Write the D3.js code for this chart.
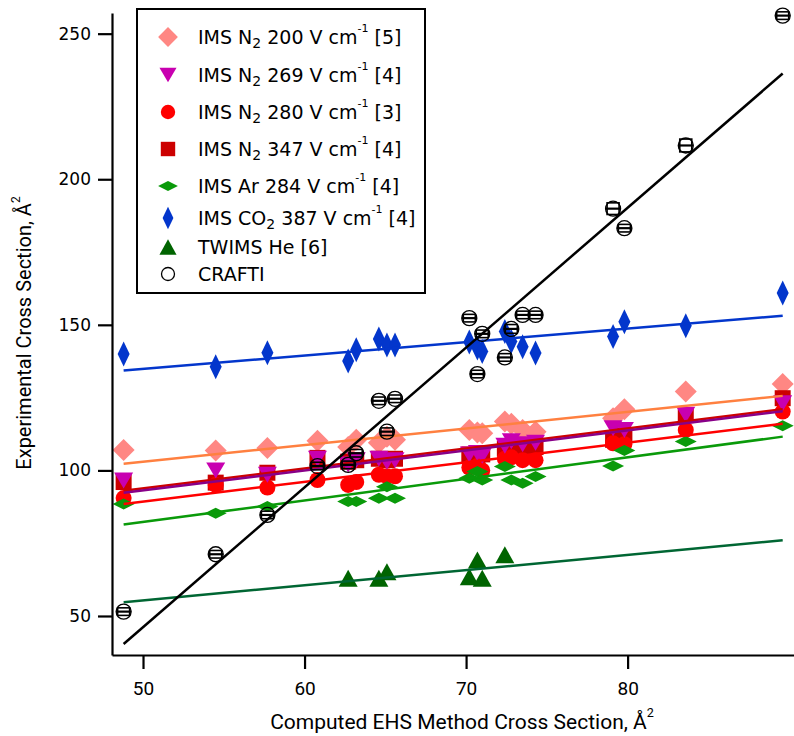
<!DOCTYPE html>
<html><head><meta charset="utf-8">
<script src="https://cdn.jsdelivr.net/npm/d3@7/dist/d3.min.js"></script>
<style>body{margin:0;background:#fff}</style>
</head><body>
<svg id="c" width="794" height="736"></svg>
<script>
// ---- data ----
const ehs      = [48.8, 54.5, 57.7, 60.8, 62.7, 63.2, 64.6, 65.1, 65.6, 70.2, 70.7, 71.0, 72.4, 72.8, 73.5, 74.3, 79.1, 79.8, 83.6, 89.6];
const n2_200   = [107, 106.8, 107.7, 110.2, 108, 110.5, 109.5, 111.6, 110.5, 113.9, 113, 112.8, 116.8, 116, 113.9, 113.3, 117.9, 121, 127.1, 129.7];
const n2_269   = [96.5, 100, 98.5, 104, 102, 103.5, 104, 103, 103.5, 105.5, 106, 105, 108.5, 110, 109, 109.5, 114.5, 113.9, 119.1, 123.1];
const n2_280   = [90.5, 95, 94.1, 96.7, 95, 96, 98.5, 98, 98, 101, 101.5, 100, 104, 104.5, 103.5, 103.5, 109.3, 109, 113.9, 120.2];
const n2_347   = [96, 95.8, 99.2, 104.3, 103, 103.5, 104, 103.5, 104, 105.5, 105, 105.5, 107.5, 108, 107, 108, 110.5, 112, 119, 124.8];
const ar_284   = [88.5, 85.3, 87.6, null, 89.3, 89.3, 90.4, 94.4, 90.4, 97.3, 99.6, 96.7, 101.3, 96.7, 95.6, 97.9, 101.5, 106.8, 109.9, 115.3];
const co2_387  = [140, 135.6, 140.4, null, 137.6, 141.4, 145.1, 143.1, 143.1, 144.1, 142, 140.8, 147.7, 144.3, 142.5, 140.3, 146, 151.1, 149.7, 160.9];
const twims_he = [null, null, null, null, 63.0, null, 63.0, 65.2, null, 63.5, 69.2, 63.0, 71.0, null, null, null, null, null, null, null];
const crafti   = [51.5, 71.2, 84.7, 101.5, 101.9, 105.9, 123.9, 113.3, 124.6, 152.3, 133.1, 146.9, 138.8, 148.6, 153.4, 153.4, 189.9, 183.2, 211.6, 256.2];
const craftiErr= [1.3, 1.3, 1.3, 1.3, 1.3, 1.3, 1.3, 1.3, 1.3, 1.3, 1.3, 1.3, 1.3, 1.5, 1.3, 1.3, 2.0, 1.3, 2.2, 1.3];

// linear fit lines: values at the first and last EHS value
const fitX        = [48.8, 89.6];
const fit_n2_200  = [102.3, 125.6];
const fit_n2_269  = [92.3, 120.3];
const fit_n2_280  = [88.5, 116.0];
const fit_n2_347  = [93.0, 121.0];
const fit_ar_284  = [81.4, 111.6];
const fit_co2_387 = [134.3, 153.1];
const fit_twims   = [54.7, 76.0];
const fit_crafti  = [40.4, 236.3];

const xTicks = [50, 60, 70, 80];
const yTicks = [50, 100, 150, 200, 250];
const xTitle = ["Computed EHS Method Cross Section, Å", "2"];
const yTitle = ["Experimental Cross Section, Å", "2"];
const legendLabels = [
  [["IMS N"], ["2","sub"], [" 200 V cm"], ["-1","sup"], [" [5]"]],
  [["IMS N"], ["2","sub"], [" 269 V cm"], ["-1","sup"], [" [4]"]],
  [["IMS N"], ["2","sub"], [" 280 V cm"], ["-1","sup"], [" [3]"]],
  [["IMS N"], ["2","sub"], [" 347 V cm"], ["-1","sup"], [" [4]"]],
  [["IMS Ar 284 V cm"], ["-1","sup"], [" [4]"]],
  [["IMS CO"], ["2","sub"], [" 387 V cm"], ["-1","sup"], [" [4]"]],
  [["TWIMS He [6]"]],
  [["CRAFTI"]]
];

// ---- styles ----
const series = [
  {vals:n2_200,  fit:fit_n2_200,  shape:"diamond", w:22, h:22, fill:"#ff8783", line:"#ff8040"},
  {vals:n2_347,  fit:fit_n2_347,  shape:"square",  w:16, h:16, fill:"#cc0000", line:"#cc0000"},
  {vals:n2_280,  fit:fit_n2_280,  shape:"circle",  w:16, h:16, fill:"#ff0000", line:"#ff0000"},
  {vals:n2_269,  fit:fit_n2_269,  shape:"triDown", w:19, h:16, fill:"#c800b0", line:"#880088"},
  {vals:ar_284,  fit:fit_ar_284,  shape:"diamond", w:22, h:11, fill:"#0a9a0a", line:"#0a9a0a"},
  {vals:co2_387, fit:fit_co2_387, shape:"diamond", w:12, h:25, fill:"#0336cc", line:"#0336cc"},
  {vals:twims_he,fit:fit_twims,   shape:"triUp",   w:19, h:17, fill:"#006400", line:"#006633"},
];
const legendStyles = [series[0], series[3], series[2], series[1], series[4], series[5], series[6],
  {shape:"circle", w:14, h:14, fill:"none", stroke:"#000"}];

function shapePath(s, w, h){
  const a=w/2, b=h/2;
  switch(s){
    case "diamond": return `M0,${-b}L${a},0L0,${b}L${-a},0Z`;
    case "square":  return `M${-a},${-b}H${a}V${b}H${-a}Z`;
    case "triDown": return `M${-a},${-b}H${a}L0,${b}Z`;
    case "triUp":   return `M${-a},${b}H${a}L0,${-b}Z`;
    case "circle":  return `M${a},0A${a},${a} 0 1 1 ${-a},0A${a},${a} 0 1 1 ${a},0Z`;
  }
}

const svg = d3.select("#c");
const x = d3.scaleLinear().domain([48.08, 90.3]).range([112, 794]);
const y = d3.scaleLinear().domain([36.6, 257.1]).range([655, 13]);

// markers
const mk = svg.append("g");
series.forEach(s=>{
  mk.append("g").selectAll("path")
    .data(ehs.map((e,i)=>[e, s.vals[i]]).filter(d=>d[1]!=null))
    .join("path")
    .attr("transform", d=>`translate(${x(d[0])},${y(d[1])})`)
    .attr("d", shapePath(s.shape, s.w, s.h))
    .attr("fill", s.fill);
});

// fit lines
const lg = svg.append("g").attr("fill","none").attr("stroke-width",2.5);
series.forEach(s=>{
  lg.append("line")
    .attr("x1", x(fitX[0])).attr("x2", x(fitX[1]))
    .attr("y1", y(s.fit[0])).attr("y2", y(s.fit[1]))
    .attr("stroke", s.line);
});
lg.append("line")
  .attr("x1", x(fitX[0])).attr("x2", x(fitX[1]))
  .attr("y1", y(fit_crafti[0])).attr("y2", y(fit_crafti[1]))
  .attr("stroke", "#000");

// CRAFTI points with error bars
const cg = svg.append("g").attr("fill","none").attr("stroke","#000");
const cd = ehs.map((e,i)=>({x:e, y:crafti[i], err:craftiErr[i]}));
const cp = cg.selectAll("g").data(cd).join("g")
  .attr("transform", d=>`translate(${x(d.x)},${y(d.y)})`);
cp.append("circle").attr("r", 7.5).attr("stroke-width", 1.3);
cp.append("rect")
  .attr("x", -6).attr("width", 12)
  .attr("y", d=>y(d.y+d.err)-y(d.y)).attr("height", d=>y(d.y-d.err)-y(d.y+d.err))
  .attr("stroke-width", 1.6);
cp.append("line").attr("x1",-7.5).attr("x2",7.5).attr("stroke-width",2.2);

// axes
const ax = svg.append("g").attr("transform","translate(112,0)")
  .call(d3.axisLeft(y).tickValues(yTicks).tickSize(14).tickSizeOuter(0).tickPadding(7));
ax.selectAll("path,line").attr("stroke","#000").attr("stroke-width",2.2);
ax.selectAll("text").attr("font-family","DejaVu Sans, sans-serif").attr("font-size",17).attr("fill","#000");

const bx = svg.append("g").attr("transform","translate(0,655)")
  .call(d3.axisBottom(x).tickValues(xTicks).tickSize(14).tickSizeOuter(0).tickPadding(13));
bx.selectAll("path,line").attr("stroke","#000").attr("stroke-width",2.2);
bx.selectAll("text").attr("font-family","Roboto, sans-serif").attr("font-size",19).attr("fill","#000");

// axis titles
function titled(g, parts, fs){
  g.append("tspan").text(parts[0]);
  g.append("tspan").text(parts[1]).attr("font-size", fs*0.6).attr("dy", -fs*0.55);
}
const xt = svg.append("text").attr("font-family","Roboto, sans-serif").attr("font-size",21)
  .attr("text-anchor","middle").attr("x",462).attr("y",729);
titled(xt, xTitle, 21);
const yt = svg.append("text").attr("font-family","Roboto, sans-serif").attr("font-size",20)
  .attr("text-anchor","middle").attr("transform","translate(31,333) rotate(-90)");
titled(yt, yTitle, 20);

// legend
const leg = svg.append("g");
leg.append("rect").attr("x",137).attr("y",9).attr("width",288).attr("height",284)
  .attr("fill","#fff").attr("stroke","#000").attr("stroke-width",2);
const rowY = [37, 75, 112, 149, 186, 218, 247, 274];
legendLabels.forEach((parts,i)=>{
  const s = legendStyles[i];
  const sw = s.w*0.9, sh = s.h*0.9;
  leg.append("path").attr("transform",`translate(168,${rowY[i]})`)
    .attr("d", shapePath(s.shape, i===7?13:sw, i===7?13:sh))
    .attr("fill", s.fill).attr("stroke", s.stroke||"none").attr("stroke-width",1.3);
  const t = leg.append("text").attr("x",198).attr("y",rowY[i]+7)
    .attr("font-family","DejaVu Sans, sans-serif").attr("font-size",19).attr("fill","#000");
  let shift = 0;
  parts.forEach(p=>{
    const ts = t.append("tspan").text(p[0]);
    let target = 0;
    if (p[1]==="sub"){ ts.attr("font-size",14); target = 4; }
    else if (p[1]==="sup"){ ts.attr("font-size",11); target = -12; }
    ts.attr("dy", target - shift);
    shift = target;
  });
});
</script>
</body></html>
